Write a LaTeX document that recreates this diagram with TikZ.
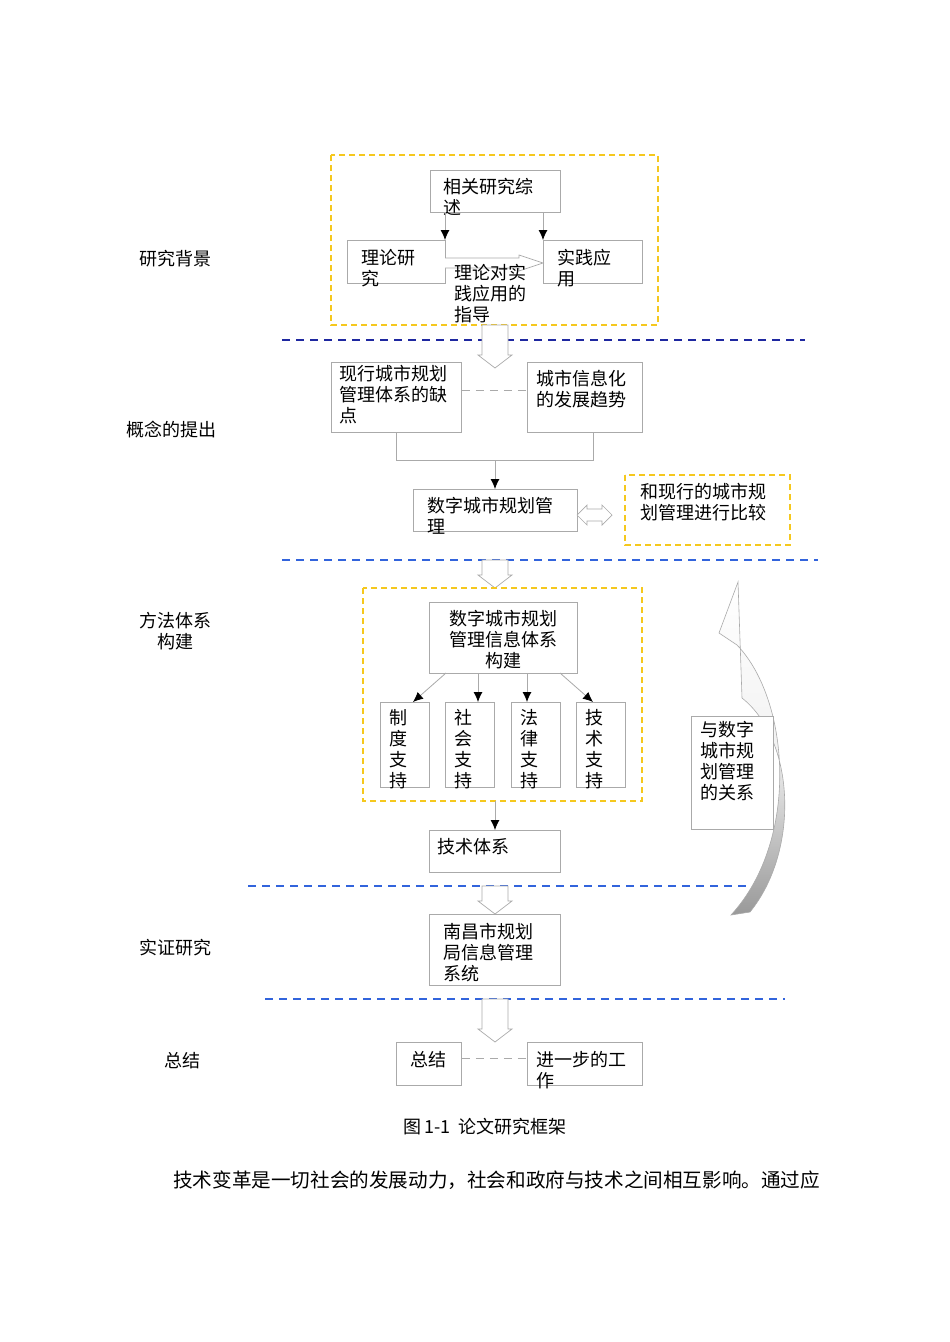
\documentclass[tikz,border=0pt]{standalone}
\usepackage{fontspec}
\setmainfont{Liberation Serif}
\newfontfamily\cjk{Noto Sans CJK SC}
\usetikzlibrary{calc}
\definecolor{ybox}{RGB}{245,200,30}
\definecolor{dblue}{RGB}{30,40,160}
\definecolor{lblue}{RGB}{50,100,220}
\definecolor{bgray}{RGB}{170,170,170}
\tikzset{
  box/.style={draw=bgray, line width=0.8pt, anchor=north west, inner sep=0pt},
  txt/.style={anchor=north west, inner sep=0pt, font=\cjk\fontsize{18}{21}\selectfont, align=left},
  ydash/.style={draw=ybox, line width=1.6pt, dash pattern=on 6pt off 4pt},
  bdash/.style={line width=1.6pt, dash pattern=on 8pt off 6pt},
  gdash/.style={draw=bgray, line width=0.6pt, dash pattern=on 8pt off 6pt},
  conn/.style={draw=bgray, line width=0.8pt},
  tipped/.style={-{Latex[length=10pt,width=9pt,black]}},
  hol/.style={draw=bgray, fill=white, line width=0.7pt},
  lbl/.style={font=\cjk\fontsize{18}{21}\selectfont, align=center, inner sep=0pt}
}
\usetikzlibrary{arrows.meta}
\newcommand{\holdown}[3]{% x, y1, y2
  \draw[hol] (#1-13,#2) -- (#1+13,#2) -- (#1+13,#3-13) -- (#1+17,#3-13) -- (#1,#3) -- (#1-17,#3-13) -- (#1-13,#3-13) -- cycle;}
\begin{document}
\begin{tikzpicture}[x=1pt,y=-1pt]
\useasboundingbox[fill=white] (0,0) rectangle (950,1342);

% section 1
\draw[ydash] (331,155) rectangle (658,325);
\node[box, minimum width=130pt, minimum height=42pt] (xg) at (430,170) {};
\node[txt] at (443,178) {相关研究综\\述};
\node[box, minimum width=98pt, minimum height=43pt] (ll) at (347,240) {};
\node[txt] at (361,249) {理论研\\究};
\node[box, minimum width=99pt, minimum height=43pt] (sj) at (543,240) {};
\node[txt] at (557,249) {实践应\\用};
\draw[conn,tipped] (445,212) -- (445,240);
\draw[conn,tipped] (543,212) -- (543,240);
\draw[hol] (445,258) -- (519,258) -- (519,255) -- (543,263) -- (519,271) -- (519,268) -- (445,268);
\node[txt] (zd) at (454,264) {理论对实\\践应用的\\指导};

\draw[bdash, draw=dblue] (282,340) -- (805,340);
\holdown{495}{325}{368}

% section 2
\node[box, minimum width=130pt, minimum height=70pt] (xx) at (331,362) {};
\node[txt] at (339,365) {现行城市规划\\管理体系的缺\\点};
\node[box, minimum width=115pt, minimum height=70pt] (cs) at (527,362) {};
\node[txt] at (536,370) {城市信息化\\的发展趋势};
\draw[gdash] (xx.east |- 0,390) -- (cs.west |- 0,390);
\node[box, minimum width=164pt, minimum height=42pt] (sz) at (413,489) {};
\node[txt] at (427,497) {数字城市规划管\\理};
\draw[conn] (396,432) -- (396,460) -- (593,460) -- (593,432);
\draw[conn,tipped] (495,460) -- (495,489);
\draw[ydash] (625,475) rectangle (790,545);
\node[txt] (bj) at (640,483) {和现行的城市规\\划管理进行比较};
\draw[hol] (577,515) -- (587,505) -- (587,509) -- (602,509) -- (602,505) -- (612,515) -- (602,525) -- (602,521) -- (587,521) -- (587,525) -- cycle;

\draw[bdash, draw=lblue] (282,560) -- (818,560);
\holdown{495}{560}{588}

% section 3
\draw[ydash] (363,588) rectangle (642,801);
\node[box, minimum width=148pt, minimum height=71pt] (gj) at (429,602) {};
\node[txt, align=center, anchor=north] at (503,610) {数字城市规划\\管理信息体系\\构建};
\foreach \x/\t/\n in {380/制\\度\\支\\持/a, 445/社\\会\\支\\持/b, 511/法\\律\\支\\持/c, 576/技\\术\\支\\持/d}{
  \node[box, minimum width=49pt, minimum height=85pt] (s\n) at (\x,702) {};
  \node[txt] at (\x+9,709) {\t};
}
\draw[conn,tipped] (446,673) -- (413,702);
\draw[conn,tipped] (478,673) -- (478,702);
\draw[conn,tipped] (527,673) -- (527,702);
\draw[conn,tipped] (560,673) -- (593,702);
\draw[conn,tipped] (495,801) -- (495,830);
\node[box, minimum width=131pt, minimum height=42pt] (js) at (429,830) {};
\node[txt] at (437,838) {技术体系};

% curved arrow
\shade[top color=white, bottom color=gray!80, middle color=white!90!gray, draw=bgray, line width=0.6pt]
  (738,582) -- (719,633) -- (737,645) .. controls (790,700) and (800,840) .. (731,915)
  -- (750,912) .. controls (800,850) and (795,740) .. (742,698) -- cycle;
\node[box, fill=white, minimum width=82pt, minimum height=113pt] (gx) at (691,716) {};
\node[txt] at (700,721) {与数字\\城市规\\划管理\\的关系};

\draw[bdash, draw=lblue] (248,886) -- (750,886);
\holdown{495}{886}{914}

% section 4
\node[box, minimum width=131pt, minimum height=71pt] (nc) at (429,914) {};
\node[txt] at (443,923) {南昌市规划\\局信息管理\\系统};
\draw[bdash, draw=lblue] (265,999) -- (785,999);
\draw[hol] (482,999) -- (508,999) -- (508,1029) -- (512,1029) -- (495,1042) -- (478,1029) -- (482,1029) -- cycle;

% section 5
\node[box, minimum width=65pt, minimum height=43pt] (zj) at (396,1042) {};
\node[txt] at (410,1051) {总结};
\node[box, minimum width=115pt, minimum height=43pt] (jy) at (527,1042) {};
\node[txt] at (536,1051) {进一步的工\\作};
\draw[gdash] (zj.east |- 0,1058) -- (jy.west |- 0,1058);

% left labels
\node[lbl] (l1) at (175,259) {研究背景};
\node[lbl] (l2) at (171,430) {概念的提出};
\node[lbl] (l3) at (175,631) {方法体系\\构建};
\node[lbl] (l4) at (175,948) {实证研究};
\node[lbl] (l5) at (182,1061) {总结};

\node[lbl] (cap) at (485,1127) {\fontsize{18}{20}\selectfont 图\,1-1\ \ 论文研究框架};
\node[lbl, anchor=west] (body) at (173,1180) {\fontsize{19.6}{22}\selectfont 技术变革是一切社会的发展动力，社会和政府与技术之间相互影响。通过应};
\end{tikzpicture}
\end{document}
